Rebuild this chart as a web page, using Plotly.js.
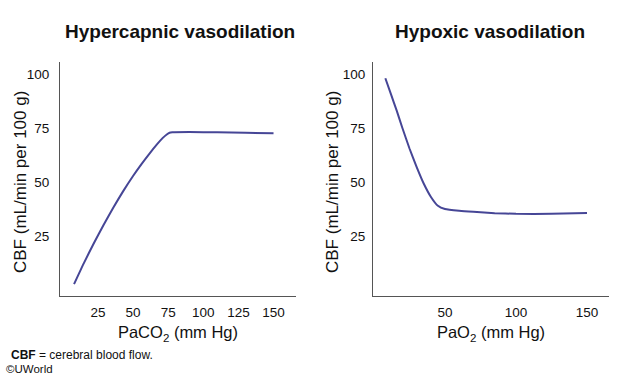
<!DOCTYPE html>
<html>
<head>
<meta charset="utf-8">
<script src="https://cdn.plot.ly/plotly-3.0.1.min.js"></script>
<style>html,body{margin:0;padding:0;background:#fff;}#chart{width:621px;height:380px;}</style>
</head>
<body>
<div id="chart"></div>
<script>
// Hypercapnic vasodilation (PaCO2 vs CBF)
const paco2 = [8, 15, 22, 29, 36, 43, 50, 56, 62, 67, 71, 74, 76, 78, 90, 110, 130, 150];
const cbfCO2 = [2.8, 12.5, 21.6, 30.1, 38.2, 45.8, 52.8, 58.3, 63.4, 67.4, 70.3, 72, 72.8, 73, 73.1, 73, 72.8, 72.5];
// Hypoxic vasodilation (PaO2 vs CBF)
const pao2 = [8, 12, 16, 20, 25, 30, 35, 40, 45, 50, 60, 70, 85, 100, 125, 150];
const cbfO2 = [98, 90.5, 83, 75, 65.5, 57, 49.3, 43.2, 39, 37.5, 36.7, 36.2, 35.6, 35.3, 35.3, 35.7];
const xTicks1 = [25, 50, 75, 100, 125, 150];
const xTicks2 = [50, 100, 150];
const yTicks = [25, 50, 75, 100];

const lineColor = '#464696';
const axisColor = '#555555';
const font = 'Liberation Sans, Arial, sans-serif';

const traces = [
  {x: paco2, y: cbfCO2, type: 'scatter', mode: 'lines', line: {color: lineColor, width: 2, shape: 'spline', smoothing: 0.5}, xaxis: 'x', yaxis: 'y', hoverinfo: 'skip'},
  {x: pao2, y: cbfO2, type: 'scatter', mode: 'lines', line: {color: lineColor, width: 2, shape: 'spline', smoothing: 0.5}, xaxis: 'x2', yaxis: 'y2', hoverinfo: 'skip'}
];

const axBase = {showline: true, linecolor: axisColor, linewidth: 1, showgrid: false, zeroline: false, ticks: '', tickfont: {family: font, size: 13.5, color: '#111'}, fixedrange: true};
const yDomain = [(380-296)/380, (380-62)/380];
const yTitleText = 'CBF (mL/min per 100 g)';
const yTitleFont = {family: font, size: 17, color: '#111'};

const layout = {
  width: 621, height: 380,
  margin: {l: 0, r: 0, t: 0, b: 0},
  paper_bgcolor: '#fff', plot_bgcolor: '#fff',
  showlegend: false,
  font: {family: font, color: '#111'},
  xaxis: Object.assign({}, axBase, {domain: [60/621, 296/621], range: [-2, 166], tickvals: xTicks1, ticklabelstandoff: 4,
    title: {text: 'PaCO<sub>2</sub> (mm Hg)', font: {family: font, size: 16.5, color: '#111'}, standoff: 7}, anchor: 'y'}),
  yaxis: Object.assign({}, axBase, {domain: yDomain, range: [-2.7, 105.5], tickvals: yTicks, ticklabelstandoff: 7, anchor: 'x'}),
  xaxis2: Object.assign({}, axBase, {domain: [373/621, 609/621], range: [-0.7, 165.5], tickvals: xTicks2, ticklabelstandoff: 4,
    title: {text: 'PaO<sub>2</sub> (mm Hg)', font: {family: font, size: 16.5, color: '#111'}, standoff: 7}, anchor: 'y2'}),
  yaxis2: Object.assign({}, axBase, {domain: yDomain, range: [-2.7, 105.5], tickvals: yTicks, ticklabelstandoff: 4, anchor: 'x2'}),
  annotations: [
    {text: '<b>Hypercapnic vasodilation</b>', xref: 'paper', yref: 'paper', x: 180/621, y: 1 - 31/380, xanchor: 'center', yanchor: 'middle', showarrow: false, font: {family: font, size: 19, color: '#111'}},
    {text: '<b>Hypoxic vasodilation</b>', xref: 'paper', yref: 'paper', x: 490/621, y: 1 - 31/380, xanchor: 'center', yanchor: 'middle', showarrow: false, font: {family: font, size: 19, color: '#111'}},
    {text: yTitleText, textangle: -90, xref: 'paper', yref: 'paper', x: 21/621, y: 1 - 182/380, xanchor: 'center', yanchor: 'middle', showarrow: false, font: yTitleFont},
    {text: yTitleText, textangle: -90, xref: 'paper', yref: 'paper', x: 333/621, y: 1 - 182/380, xanchor: 'center', yanchor: 'middle', showarrow: false, font: yTitleFont},
    {text: '<b>CBF</b> = cerebral blood flow.', xref: 'paper', yref: 'paper', x: 9/621, y: 1 - 355/380, xanchor: 'left', yanchor: 'middle', showarrow: false, font: {family: font, size: 12, color: '#111'}},
    {text: '©UWorld', xref: 'paper', yref: 'paper', x: 4/621, y: 1 - 369/380, xanchor: 'left', yanchor: 'middle', showarrow: false, font: {family: font, size: 11.5, color: '#111'}}
  ]
};

Plotly.newPlot('chart', traces, layout, {displayModeBar: false, staticPlot: true});
</script>
</body>
</html>
